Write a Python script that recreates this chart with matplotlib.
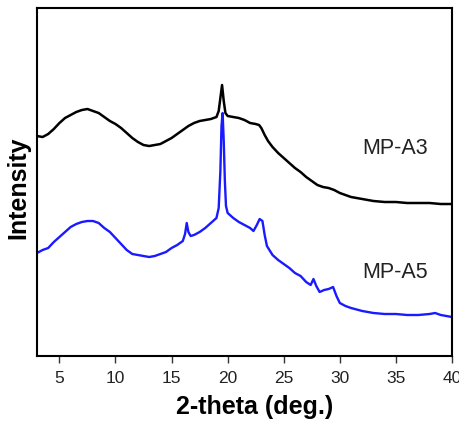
import matplotlib
matplotlib.use("Agg")
import matplotlib.pyplot as plt

plt.rcParams['font.family'] = ['Liberation Sans', 'DejaVu Sans']

# 2-theta positions (deg.) and intensities (arbitrary units, offset traces)
theta_a3 = [3.0, 3.5, 4.0, 4.5, 5.0, 5.5, 6.0, 6.5, 7.0, 7.5, 8.0, 8.5, 9.0, 9.5,
            10.0, 10.5, 11.0, 11.5, 12.0, 12.5, 13.0, 13.5, 14.0, 14.5, 15.0, 15.5,
            16.0, 16.5, 17.0, 17.5, 18.0, 18.5, 19.0, 19.2, 19.35, 19.5, 19.65, 19.8,
            20.0, 20.5, 21.0, 21.5, 22.0, 22.5, 22.8, 23.0, 23.3, 23.6, 24.0, 24.5,
            25.0, 25.5, 26.0, 26.5, 27.0, 27.5, 28.0, 28.5, 29.0, 29.5, 30.0, 31.0,
            32.0, 33.0, 34.0, 35.0, 36.0, 37.0, 38.0, 39.0, 40.0]
int_a3 = [220, 219, 222, 227, 233, 238, 241, 244, 246, 247, 245, 243, 239, 235,
          232, 228, 223, 218, 214, 211, 210, 211, 212, 215, 218, 222,
          226, 230, 233, 235, 236, 237, 239, 245, 258, 271, 255, 243,
          240, 239, 238, 236, 233, 232, 231, 228, 221, 215, 209, 203,
          198, 193, 188, 184, 179, 175, 171, 169, 168, 166, 163, 159,
          157, 155, 154, 154, 153, 153, 153, 152, 152]

theta_a5 = [3.0, 3.5, 4.0, 4.5, 5.0, 5.5, 6.0, 6.5, 7.0, 7.5, 8.0, 8.5, 9.0, 9.5,
            10.0, 10.5, 11.0, 11.5, 12.0, 12.5, 13.0, 13.5, 14.0, 14.5, 15.0, 15.5,
            16.0, 16.2, 16.35, 16.5, 16.7, 17.0, 17.5, 18.0, 18.5, 19.0, 19.2, 19.35,
            19.45, 19.55, 19.65, 19.75, 19.85, 20.0, 20.5, 21.0, 21.5, 22.0, 22.3, 22.6,
            22.85, 23.1, 23.3, 23.5, 24.0, 24.5, 25.0, 25.5, 26.0, 26.5, 27.0, 27.4,
            27.65, 27.9, 28.2, 28.6, 29.0, 29.4, 29.7, 30.0, 30.5, 31.0, 32.0, 33.0,
            34.0, 35.0, 36.0, 37.0, 38.0, 38.5, 39.0, 40.0]
int_a5 = [103, 106, 108, 114, 119, 124, 129, 132, 134, 135, 135, 133, 128, 124,
          118, 112, 106, 102, 101, 100, 99, 100, 102, 104, 108, 111,
          115, 122, 133, 124, 120, 121, 124, 128, 133, 138, 148, 185,
          230, 243, 215, 175, 150, 143, 138, 134, 131, 128, 125, 131,
          137, 135, 121, 110, 101, 96, 92, 88, 83, 80, 74, 71,
          77, 70, 64, 66, 67, 69, 60, 53, 50, 48, 45, 43,
          42, 42, 41, 41, 42, 43, 41, 39]

labels = ['MP-A3', 'MP-A5']
colors = ['black', '#1a1aff']

fig = plt.figure(figsize=(4.6, 4.22), dpi=100)
ax = fig.add_axes([0.0804, 0.1564, 0.9022, 0.8246])

ax.plot(theta_a3, int_a3, color=colors[0], lw=1.8)
ax.plot(theta_a5, int_a5, color=colors[1], lw=1.7)

ax.text(32.0, 208, labels[0], fontsize=15.5, va='center', ha='left', color='#222222')
ax.text(32.0, 84, labels[1], fontsize=15.5, va='center', ha='left', color='#222222')

ax.set_xlim(3, 40)
ax.set_ylim(0, 348)
ax.set_xticks([5, 10, 15, 20, 25, 30, 35, 40])
ax.set_yticks([])
ax.tick_params(axis='x', direction='out', length=5, width=1, labelsize=12.5,
               colors='#333333', labelcolor='#222222', pad=6)
for s in ax.spines.values():
    s.set_linewidth(1.5)
ax.set_xlabel('2-theta (deg.)', fontsize=18, fontweight='bold', va='center')
ax.xaxis.set_label_coords(0.524, -0.1466)
ax.set_ylabel('Intensity', fontsize=18, fontweight='bold', va='center')
ax.yaxis.set_label_coords(-0.046, 0.483)

fig.savefig('out.png', dpi=100)
